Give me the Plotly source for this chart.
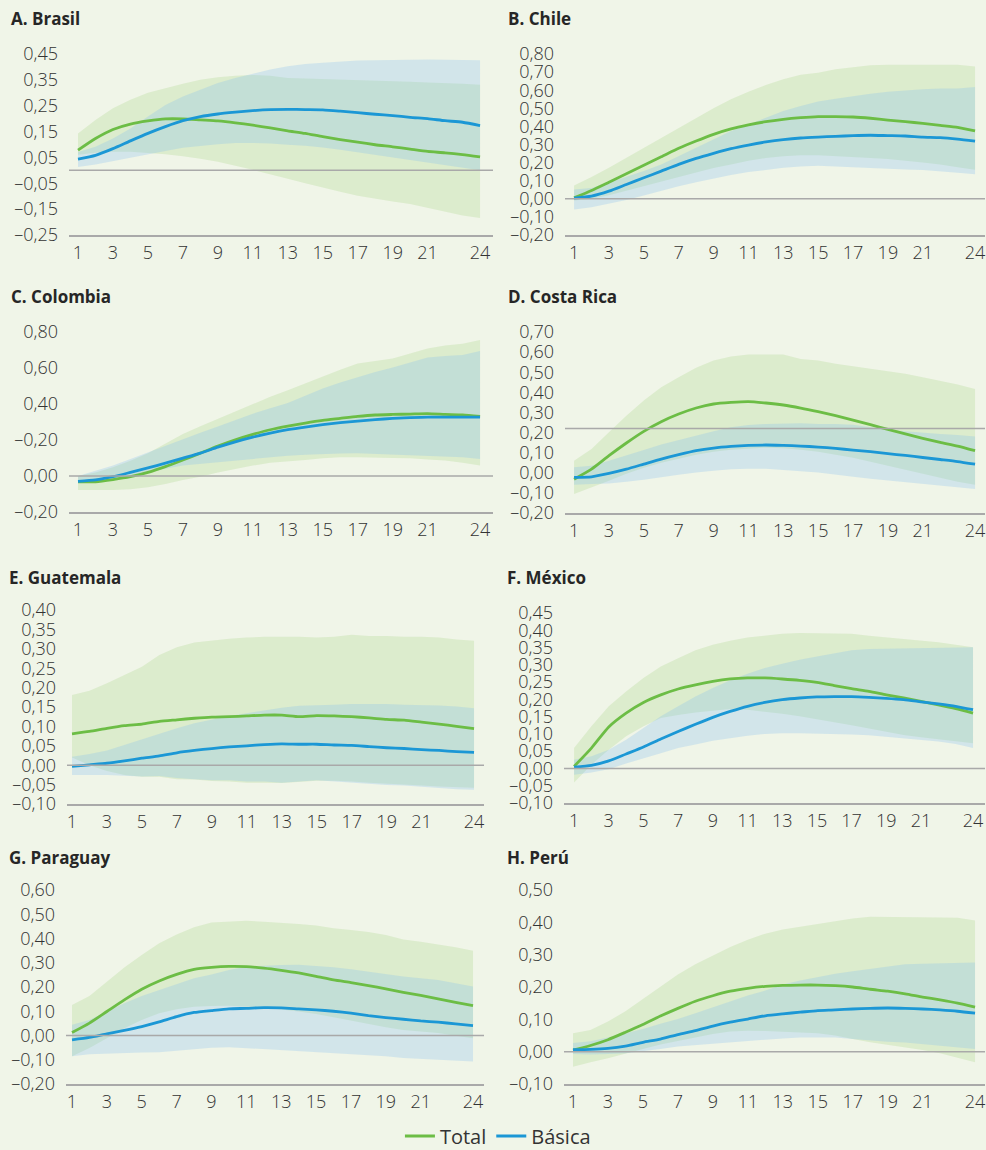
import plotly.graph_objects as go

# =========================
# Datos
# =========================
PERIODOS = list(range(1, 25))
X_TICKS = [1, 3, 5, 7, 9, 11, 13, 15, 17, 19, 21, 24]

# A. Brasil
BRA_TOTAL = [0.078, 0.123, 0.158, 0.179, 0.191, 0.199, 0.199, 0.195, 0.191, 0.184, 0.175, 0.164,
             0.153, 0.143, 0.130, 0.119, 0.109, 0.099, 0.091, 0.082, 0.073, 0.068, 0.061, 0.052]
BRA_TOTAL_HI = [0.143, 0.195, 0.240, 0.273, 0.300, 0.318, 0.335, 0.350, 0.360, 0.366, 0.369, 0.366,
                0.357, 0.355, 0.353, 0.352, 0.351, 0.349, 0.345, 0.343, 0.340, 0.338, 0.335, 0.331]
BRA_TOTAL_LO = [0.060, 0.068, 0.072, 0.072, 0.068, 0.062, 0.055, 0.045, 0.033, 0.018, 0.002, -0.014,
                -0.032, -0.050, -0.068, -0.083, -0.098, -0.110, -0.120, -0.130, -0.143, -0.160, -0.175, -0.184]
BRA_BASICA = [0.043, 0.058, 0.084, 0.114, 0.143, 0.169, 0.192, 0.208, 0.218, 0.225, 0.231, 0.235,
              0.236, 0.235, 0.234, 0.229, 0.223, 0.217, 0.212, 0.205, 0.200, 0.192, 0.186, 0.173]
BRA_BASICA_HI = [0.071, 0.091, 0.123, 0.162, 0.208, 0.253, 0.286, 0.313, 0.338, 0.357, 0.374, 0.390,
                 0.403, 0.411, 0.416, 0.421, 0.425, 0.426, 0.426, 0.428, 0.429, 0.428, 0.427, 0.426]
BRA_BASICA_LO = [0.013, 0.023, 0.036, 0.049, 0.062, 0.075, 0.087, 0.095, 0.101, 0.106, 0.106, 0.104,
                 0.099, 0.095, 0.088, 0.080, 0.071, 0.062, 0.052, 0.042, 0.031, 0.021, 0.010, 0.000]

# B. Chile
CHI_TOTAL = [0.005, 0.046, 0.092, 0.138, 0.186, 0.232, 0.279, 0.319, 0.356, 0.386, 0.408, 0.426,
             0.439, 0.448, 0.454, 0.454, 0.452, 0.445, 0.435, 0.426, 0.417, 0.406, 0.395, 0.375]
CHI_TOTAL_HI = [0.074, 0.120, 0.172, 0.227, 0.282, 0.338, 0.389, 0.448, 0.500, 0.550, 0.592, 0.629,
                0.660, 0.685, 0.697, 0.716, 0.729, 0.738, 0.740, 0.740, 0.740, 0.740, 0.740, 0.731]
CHI_TOTAL_LO = [-0.010, 0.000, 0.020, 0.045, 0.070, 0.095, 0.120, 0.145, 0.170, 0.190, 0.210, 0.225,
                0.235, 0.240, 0.240, 0.235, 0.230, 0.225, 0.220, 0.210, 0.200, 0.190, 0.175, 0.160]
CHI_BASICA = [0.004, 0.015, 0.042, 0.079, 0.116, 0.153, 0.190, 0.223, 0.251, 0.277, 0.297, 0.314,
              0.327, 0.336, 0.341, 0.345, 0.349, 0.351, 0.349, 0.347, 0.341, 0.338, 0.330, 0.319]
CHI_BASICA_HI = [0.052, 0.060, 0.090, 0.120, 0.153, 0.190, 0.236, 0.282, 0.328, 0.375, 0.410, 0.448,
                 0.485, 0.513, 0.537, 0.553, 0.568, 0.580, 0.592, 0.600, 0.605, 0.609, 0.610, 0.618]
CHI_BASICA_LO = [-0.059, -0.046, -0.028, -0.007, 0.018, 0.046, 0.070, 0.092, 0.113, 0.131, 0.148, 0.159,
                 0.172, 0.179, 0.183, 0.181, 0.177, 0.172, 0.166, 0.162, 0.159, 0.153, 0.144, 0.135]

# C. Colombia
COL_TOTAL = [-0.033, -0.032, -0.020, -0.004, 0.020, 0.052, 0.089, 0.127, 0.166, 0.201, 0.231, 0.257,
             0.277, 0.294, 0.309, 0.320, 0.331, 0.339, 0.342, 0.344, 0.346, 0.342, 0.339, 0.331]
COL_TOTAL_HI = [0.000, 0.020, 0.048, 0.085, 0.127, 0.180, 0.234, 0.277, 0.318, 0.360, 0.402, 0.440,
                0.476, 0.515, 0.551, 0.590, 0.625, 0.640, 0.653, 0.680, 0.709, 0.725, 0.735, 0.755]
COL_TOTAL_LO = [-0.078, -0.078, -0.078, -0.073, -0.063, -0.045, -0.022, -0.004, 0.020, 0.039, 0.058, 0.073,
                0.082, 0.089, 0.099, 0.104, 0.104, 0.104, 0.100, 0.099, 0.091, 0.086, 0.074, 0.058]
COL_BASICA = [-0.030, -0.022, -0.004, 0.020, 0.045, 0.071, 0.099, 0.127, 0.160, 0.190, 0.216, 0.238,
              0.257, 0.272, 0.285, 0.296, 0.305, 0.313, 0.320, 0.324, 0.327, 0.327, 0.327, 0.327]
COL_BASICA_HI = [0.000, 0.028, 0.058, 0.095, 0.132, 0.169, 0.206, 0.240, 0.275, 0.311, 0.346, 0.377,
                 0.405, 0.446, 0.486, 0.520, 0.551, 0.578, 0.603, 0.632, 0.659, 0.666, 0.672, 0.694]
COL_BASICA_LO = [-0.035, -0.027, -0.017, 0.002, 0.020, 0.040, 0.058, 0.067, 0.076, 0.086, 0.095, 0.104,
                 0.113, 0.118, 0.123, 0.125, 0.127, 0.125, 0.123, 0.118, 0.113, 0.108, 0.104, 0.095]

# D. Costa Rica
CRI_TOTAL = [-0.032, 0.018, 0.085, 0.148, 0.206, 0.254, 0.292, 0.322, 0.342, 0.350, 0.354, 0.347,
             0.337, 0.322, 0.304, 0.284, 0.262, 0.239, 0.216, 0.193, 0.171, 0.151, 0.133, 0.110]
CRI_TOTAL_HI = [0.060, 0.118, 0.201, 0.284, 0.359, 0.425, 0.475, 0.522, 0.558, 0.578, 0.588, 0.588,
                0.588, 0.566, 0.558, 0.542, 0.528, 0.517, 0.505, 0.492, 0.475, 0.458, 0.439, 0.417]
CRI_TOTAL_LO = [-0.106, -0.075, -0.040, -0.005, 0.025, 0.050, 0.070, 0.090, 0.105, 0.115, 0.120, 0.125,
                0.122, 0.115, 0.105, 0.090, 0.075, 0.055, 0.035, 0.015, -0.005, -0.025, -0.045, -0.060]
CRI_BASICA = [-0.023, -0.020, -0.003, 0.018, 0.043, 0.068, 0.090, 0.110, 0.123, 0.131, 0.136, 0.138,
              0.136, 0.133, 0.128, 0.121, 0.113, 0.105, 0.095, 0.086, 0.076, 0.066, 0.056, 0.043]
CRI_BASICA_HI = [0.027, 0.035, 0.060, 0.085, 0.113, 0.140, 0.163, 0.184, 0.206, 0.226, 0.238, 0.243,
                 0.246, 0.246, 0.243, 0.243, 0.239, 0.226, 0.214, 0.206, 0.198, 0.193, 0.188, 0.181]
CRI_BASICA_LO = [-0.060, -0.056, -0.053, -0.045, -0.035, -0.023, -0.010, 0.002, 0.010, 0.017, 0.020, 0.020,
                 0.013, 0.007, 0.002, -0.010, -0.020, -0.030, -0.040, -0.048, -0.056, -0.065, -0.073, -0.081]

# E. Guatemala
GTM_TOTAL = [0.081, 0.087, 0.095, 0.102, 0.106, 0.113, 0.117, 0.121, 0.124, 0.125, 0.127, 0.129,
             0.129, 0.125, 0.128, 0.127, 0.125, 0.122, 0.118, 0.116, 0.111, 0.106, 0.100, 0.094]
GTM_TOTAL_HI = [0.181, 0.192, 0.211, 0.232, 0.254, 0.284, 0.304, 0.316, 0.321, 0.326, 0.329, 0.331,
                0.331, 0.331, 0.329, 0.331, 0.336, 0.333, 0.333, 0.331, 0.331, 0.329, 0.324, 0.321]
GTM_TOTAL_LO = [0.020, 0.000, -0.015, -0.025, -0.030, -0.030, -0.036, -0.037, -0.041, -0.042, -0.045, -0.045,
                -0.046, -0.043, -0.040, -0.040, -0.042, -0.045, -0.047, -0.050, -0.052, -0.055, -0.057, -0.058]
GTM_BASICA = [-0.003, 0.001, 0.005, 0.011, 0.018, 0.024, 0.032, 0.038, 0.043, 0.047, 0.050, 0.053,
              0.055, 0.054, 0.054, 0.052, 0.051, 0.048, 0.045, 0.043, 0.040, 0.038, 0.035, 0.033]
GTM_BASICA_HI = [0.022, 0.029, 0.038, 0.052, 0.068, 0.082, 0.095, 0.108, 0.118, 0.127, 0.134, 0.141,
                 0.148, 0.153, 0.154, 0.156, 0.158, 0.158, 0.158, 0.156, 0.155, 0.154, 0.151, 0.147]
GTM_BASICA_LO = [-0.025, -0.025, -0.025, -0.027, -0.029, -0.028, -0.033, -0.036, -0.039, -0.039, -0.042, -0.042,
                 -0.045, -0.042, -0.039, -0.042, -0.046, -0.048, -0.051, -0.052, -0.055, -0.059, -0.062, -0.063]

# F. México
MEX_TOTAL = [0.006, 0.059, 0.120, 0.160, 0.191, 0.213, 0.230, 0.242, 0.252, 0.259, 0.262, 0.262,
             0.259, 0.255, 0.249, 0.240, 0.231, 0.223, 0.213, 0.204, 0.194, 0.184, 0.173, 0.160]
MEX_TOTAL_HI = [0.059, 0.122, 0.180, 0.223, 0.262, 0.295, 0.319, 0.342, 0.358, 0.370, 0.379, 0.384,
                0.390, 0.392, 0.392, 0.392, 0.390, 0.384, 0.379, 0.375, 0.371, 0.365, 0.358, 0.351]
MEX_TOTAL_LO = [-0.041, 0.011, 0.054, 0.093, 0.122, 0.146, 0.155, 0.162, 0.168, 0.172, 0.170, 0.165,
                0.158, 0.151, 0.143, 0.134, 0.125, 0.117, 0.107, 0.097, 0.090, 0.083, 0.078, 0.073]
MEX_BASICA = [0.004, 0.009, 0.022, 0.042, 0.062, 0.085, 0.107, 0.128, 0.148, 0.165, 0.180, 0.191,
              0.199, 0.204, 0.207, 0.208, 0.208, 0.206, 0.203, 0.199, 0.193, 0.187, 0.180, 0.170]
MEX_BASICA_HI = [0.025, 0.035, 0.054, 0.083, 0.117, 0.151, 0.180, 0.208, 0.233, 0.255, 0.274, 0.291,
                 0.303, 0.315, 0.324, 0.334, 0.342, 0.346, 0.347, 0.348, 0.348, 0.349, 0.351, 0.351]
MEX_BASICA_LO = [-0.018, -0.012, -0.002, 0.014, 0.030, 0.044, 0.059, 0.069, 0.080, 0.088, 0.095, 0.100,
                 0.102, 0.102, 0.102, 0.100, 0.098, 0.096, 0.093, 0.088, 0.083, 0.078, 0.071, 0.059]

# G. Paraguay
PRY_TOTAL = [0.012, 0.051, 0.099, 0.147, 0.191, 0.225, 0.252, 0.273, 0.281, 0.285, 0.284, 0.278,
             0.269, 0.258, 0.244, 0.229, 0.218, 0.206, 0.192, 0.178, 0.165, 0.151, 0.137, 0.123]
PRY_TOTAL_HI = [0.126, 0.163, 0.222, 0.280, 0.332, 0.380, 0.417, 0.446, 0.466, 0.469, 0.473, 0.469,
                0.466, 0.460, 0.454, 0.442, 0.435, 0.427, 0.414, 0.396, 0.387, 0.376, 0.364, 0.350]
PRY_TOTAL_LO = [-0.086, -0.052, -0.011, 0.030, 0.064, 0.092, 0.108, 0.119, 0.122, 0.123, 0.119, 0.115,
                0.108, 0.099, 0.089, 0.078, 0.064, 0.048, 0.034, 0.023, 0.016, 0.010, -0.001, -0.011]
PRY_BASICA = [-0.018, -0.008, 0.007, 0.021, 0.037, 0.056, 0.078, 0.095, 0.103, 0.110, 0.112, 0.115,
              0.114, 0.110, 0.106, 0.100, 0.092, 0.082, 0.074, 0.067, 0.060, 0.055, 0.048, 0.041]
PRY_BASICA_HI = [0.044, 0.064, 0.099, 0.133, 0.163, 0.188, 0.213, 0.236, 0.252, 0.270, 0.284, 0.289,
                 0.291, 0.292, 0.288, 0.281, 0.273, 0.263, 0.250, 0.243, 0.236, 0.229, 0.215, 0.202]
PRY_BASICA_LO = [-0.086, -0.077, -0.073, -0.073, -0.070, -0.069, -0.062, -0.056, -0.051, -0.048, -0.052, -0.056,
                 -0.062, -0.066, -0.070, -0.074, -0.078, -0.082, -0.086, -0.093, -0.097, -0.100, -0.104, -0.107]

# H. Perú
PER_TOTAL = [0.005, 0.019, 0.037, 0.060, 0.084, 0.110, 0.134, 0.156, 0.173, 0.187, 0.196, 0.202,
             0.205, 0.206, 0.206, 0.204, 0.200, 0.193, 0.187, 0.179, 0.169, 0.160, 0.150, 0.138]
PER_TOTAL_HI = [0.057, 0.067, 0.093, 0.125, 0.163, 0.200, 0.239, 0.270, 0.298, 0.324, 0.346, 0.365,
                0.378, 0.386, 0.396, 0.403, 0.412, 0.417, 0.417, 0.417, 0.416, 0.415, 0.414, 0.406]
PER_TOTAL_LO = [-0.047, -0.033, -0.020, -0.007, 0.008, 0.022, 0.034, 0.044, 0.055, 0.062, 0.065, 0.064,
                0.062, 0.060, 0.057, 0.050, 0.039, 0.029, 0.019, 0.013, 0.005, -0.005, -0.018, -0.033]
PER_BASICA = [0.006, 0.007, 0.010, 0.017, 0.029, 0.039, 0.053, 0.065, 0.079, 0.091, 0.101, 0.111,
              0.117, 0.122, 0.127, 0.129, 0.132, 0.134, 0.135, 0.134, 0.132, 0.129, 0.125, 0.119]
PER_BASICA_HI = [0.027, 0.032, 0.044, 0.057, 0.070, 0.086, 0.101, 0.119, 0.138, 0.156, 0.174, 0.189,
                 0.208, 0.220, 0.231, 0.241, 0.249, 0.256, 0.265, 0.270, 0.272, 0.273, 0.274, 0.276]
PER_BASICA_LO = [-0.007, -0.009, -0.007, -0.005, 0.001, 0.008, 0.016, 0.021, 0.026, 0.029, 0.034, 0.037,
                 0.041, 0.044, 0.044, 0.044, 0.039, 0.034, 0.031, 0.028, 0.024, 0.019, 0.013, 0.008]

# Ejes y (valores y etiquetas tal como aparecen)
BRA_YTICKS = [-0.25, -0.15, -0.05, 0.05, 0.15, 0.25, 0.35, 0.45]
BRA_YLABELS = ["–0,25", "–0,15", "–0,05", "0,05", "0,15", "0,25", "0,35", "0,45"]
CHI_YTICKS = [-0.2, -0.1, 0.0, 0.1, 0.2, 0.3, 0.4, 0.5, 0.6, 0.7, 0.8]
CHI_YLABELS = ["–0,20", "–0,10", "0,00", "0,10", "0,20", "0,30", "0,40", "0,50", "0,60", "0,70", "0,80"]
COL_YTICKS = [-0.2, 0.0, 0.2, 0.4, 0.6, 0.8]
COL_YLABELS = ["–0,20", "0,00", "–0,20", "0,40", "0,60", "0,80"]
CRI_YTICKS = [-0.2, -0.1, 0.0, 0.1, 0.2, 0.3, 0.4, 0.5, 0.6, 0.7]
CRI_YLABELS = ["–0,20", "–0,10", "0,00", "0,10", "0,20", "0,30", "0,40", "0,50", "0,60", "0,70"]
GTM_YTICKS = [-0.1, -0.05, 0.0, 0.05, 0.1, 0.15, 0.2, 0.25, 0.3, 0.35, 0.4]
GTM_YLABELS = ["–0,10", "–0,05", "0,00", "0,05", "0,10", "0,15", "0,20", "0,25", "0,30", "0,35", "0,40"]
MEX_YTICKS = [-0.1, -0.05, 0.0, 0.05, 0.1, 0.15, 0.2, 0.25, 0.3, 0.35, 0.4, 0.45]
MEX_YLABELS = ["–0,10", "–0,05", "0,00", "0,05", "0,10", "0,15", "0,20", "0,25", "0,30", "0,35", "0,40", "0,45"]
PRY_YTICKS = [-0.2, -0.1, 0.0, 0.1, 0.2, 0.3, 0.4, 0.5, 0.6]
PRY_YLABELS = ["–0,20", "–0,10", "0,00", "0,10", "0,20", "0,30", "0,40", "0,50", "0,60"]
PER_YTICKS = [-0.1, 0.0, 0.1, 0.2, 0.3, 0.4, 0.5]
PER_YLABELS = ["–0,10", "0,00", "0,10", "0,20", "0,30", "0,40", "0,50"]

# línea de referencia horizontal (en Costa Rica aparece desplazada)
REF_LINES = {"BRA": 0.0, "CHI": 0.0, "COL": 0.0, "CRI": 0.22,
             "GTM": 0.0, "MEX": 0.0, "PRY": 0.0, "PER": 0.0}

# =========================
# Estilo
# =========================
W, H = 986, 1150
BG = "#f0f5e8"
VERDE = "#6cbd45"
AZUL = "#1b97d5"
BANDA_VERDE = "rgba(150,205,110,0.22)"
BANDA_AZUL = "rgba(130,190,240,0.27)"
GRIS = "#a9a9a9"
TXT = "#333333"
FUENTE = "Open Sans"

# (título, clave, datos, ticks, etiquetas, dominio x px, rango x, dominio y px, posición título px)
paneles = [
    ("A. Brasil", "BRA", (BRA_TOTAL, BRA_TOTAL_LO, BRA_TOTAL_HI, BRA_BASICA, BRA_BASICA_LO, BRA_BASICA_HI),
     BRA_YTICKS, BRA_YLABELS, (69, 493), (0.485, 24.74), (54, 235), (9, 19)),
    ("B. Chile", "CHI", (CHI_TOTAL, CHI_TOTAL_LO, CHI_TOTAL_HI, CHI_BASICA, CHI_BASICA_LO, CHI_BASICA_HI),
     CHI_YTICKS, CHI_YLABELS, (565, 985), (0.48, 24.57), (54, 235), (506, 19)),
    ("C. Colombia", "COL", (COL_TOTAL, COL_TOTAL_LO, COL_TOTAL_HI, COL_BASICA, COL_BASICA_LO, COL_BASICA_HI),
     COL_YTICKS, COL_YLABELS, (69, 493), (0.485, 24.74), (332, 512), (9, 297)),
    ("D. Costa Rica", "CRI", (CRI_TOTAL, CRI_TOTAL_LO, CRI_TOTAL_HI, CRI_BASICA, CRI_BASICA_LO, CRI_BASICA_HI),
     CRI_YTICKS, CRI_YLABELS, (565, 985), (0.48, 24.57), (332, 513), (506, 297)),
    ("E. Guatemala", "GTM", (GTM_TOTAL, GTM_TOTAL_LO, GTM_TOTAL_HI, GTM_BASICA, GTM_BASICA_LO, GTM_BASICA_HI),
     GTM_YTICKS, GTM_YLABELS, (67, 484), (0.714, 24.57), (610, 804), (7, 577)),
    ("F. México", "MEX", (MEX_TOTAL, MEX_TOTAL_LO, MEX_TOTAL_HI, MEX_BASICA, MEX_BASICA_LO, MEX_BASICA_HI),
     MEX_YTICKS, MEX_YLABELS, (564, 985), (0.42, 24.69), (613, 803), (505, 577)),
    ("G. Paraguay", "PRY", (PRY_TOTAL, PRY_TOTAL_LO, PRY_TOTAL_HI, PRY_BASICA, PRY_BASICA_LO, PRY_BASICA_HI),
     PRY_YTICKS, PRY_YLABELS, (66, 484), (0.656, 24.63), (890, 1084), (7, 857)),
    ("H. Perú", "PER", (PER_TOTAL, PER_TOTAL_LO, PER_TOTAL_HI, PER_BASICA, PER_BASICA_LO, PER_BASICA_HI),
     PER_YTICKS, PER_YLABELS, (564, 985), (0.485, 24.57), (890, 1084), (505, 857)),
]

fig = go.Figure()
layout = {}
anotaciones = []
formas = []

for i, (titulo, clave, datos, yticks, ylabels, dx, rx, dy, pos_tit) in enumerate(paneles):
    n = i + 1
    xa = "x" if n == 1 else f"x{n}"
    ya = "y" if n == 1 else f"y{n}"
    total, t_lo, t_hi, basica, b_lo, b_hi = datos
    banda_x = PERIODOS + PERIODOS[::-1]

    fig.add_trace(go.Scatter(x=banda_x, y=t_hi + t_lo[::-1], fill="toself", fillcolor=BANDA_VERDE,
                             line=dict(width=0), mode="lines", showlegend=False, hoverinfo="skip",
                             xaxis=xa, yaxis=ya))
    fig.add_trace(go.Scatter(x=banda_x, y=b_hi + b_lo[::-1], fill="toself", fillcolor=BANDA_AZUL,
                             line=dict(width=0), mode="lines", showlegend=False, hoverinfo="skip",
                             xaxis=xa, yaxis=ya))
    fig.add_trace(go.Scatter(x=PERIODOS, y=total, mode="lines", name="Total",
                             line=dict(color=VERDE, width=2.8, shape="spline", smoothing=0.6),
                             showlegend=(n == 1), legendrank=1, xaxis=xa, yaxis=ya))
    fig.add_trace(go.Scatter(x=PERIODOS, y=basica, mode="lines", name="Básica",
                             line=dict(color=AZUL, width=2.8, shape="spline", smoothing=0.6),
                             showlegend=(n == 1), legendrank=2, xaxis=xa, yaxis=ya))

    layout["xaxis" if n == 1 else f"xaxis{n}"] = dict(
        domain=[dx[0] / W, dx[1] / W], range=list(rx), anchor=ya, automargin=False,
        tickmode="array", tickvals=X_TICKS, ticktext=[str(v) for v in X_TICKS],
        showgrid=False, zeroline=False, showline=True, linecolor=GRIS, linewidth=1.5,
        ticks="", ticklabelstandoff=1, ticklabeloverflow="allow",
        tickfont=dict(family=FUENTE, size=18, color=TXT, weight=300),
    )
    layout["yaxis" if n == 1 else f"yaxis{n}"] = dict(
        domain=[1 - dy[1] / H, 1 - dy[0] / H], range=[yticks[0], yticks[-1]], anchor=xa, automargin=False,
        tickmode="array", tickvals=yticks, ticktext=ylabels,
        showgrid=False, zeroline=False, showline=False, ticks="",
        ticklabelstandoff=10, ticklabeloverflow="allow",
        tickfont=dict(family=FUENTE, size=18, color=TXT, weight=300),
    )
    formas.append(dict(type="line", xref=f"{xa} domain", yref=ya, x0=0, x1=1,
                       y0=REF_LINES[clave], y1=REF_LINES[clave],
                       line=dict(color=GRIS, width=1.5), layer="above"))
    anotaciones.append(dict(text=f"<b>{titulo}</b>", xref="paper", yref="paper",
                            x=pos_tit[0] / W, y=1 - pos_tit[1] / H, xanchor="left", yanchor="middle",
                            showarrow=False, font=dict(family=FUENTE, size=17, color="#262626")))

fig.update_layout(
    **layout,
    width=W, height=H,
    margin=dict(l=0, r=0, t=0, b=0, autoexpand=False),
    paper_bgcolor=BG, plot_bgcolor="rgba(0,0,0,0)",
    annotations=anotaciones, shapes=formas,
    showlegend=True,
    legend=dict(orientation="h", xref="paper", yref="paper",
                x=0.505, xanchor="center", y=1 - 1136 / H, yanchor="middle",
                font=dict(family=FUENTE, size=20, color=TXT), bgcolor="rgba(0,0,0,0)",
                itemwidth=30, tracegroupgap=0),
)

fig.write_html("out.html", config={"displayModeBar": False},
               post_script="document.body.style.margin='0';")
